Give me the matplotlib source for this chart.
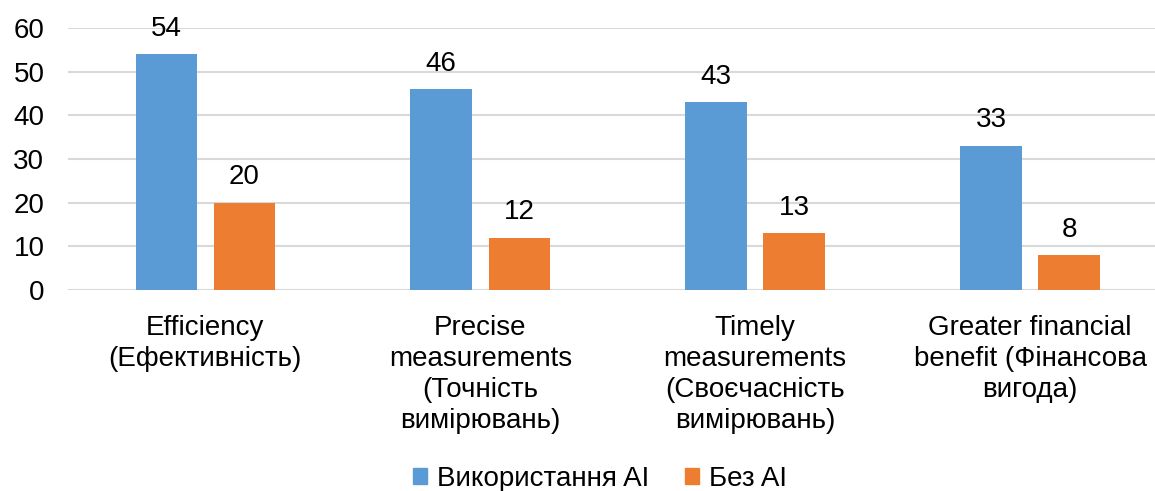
import numpy as np
import matplotlib
matplotlib.use("Agg")
import matplotlib.pyplot as plt
from matplotlib.patches import Patch

plt.rcParams['font.family'] = ['Liberation Sans', 'DejaVu Sans']

categories = [
    "Efficiency\n(Ефективність)",
    "Precise\nmeasurements\n(Точність\nвимірювань)",
    "Timely\nmeasurements\n(Своєчасність\nвимірювань)",
    "Greater financial\nbenefit (Фінансова\nвигода)",
]
with_ai = [54, 46, 43, 33]
without_ai = [20, 12, 13, 8]
series_names = ["Використання AI", "Без AI"]
colors = ["#5B9BD5", "#ED7D31"]

FS = 20
fig = plt.figure(figsize=(11.55, 4.91), dpi=100)
W, H = 1155, 491
ax = fig.add_axes([68 / W, 1 - 290 / H, (W - 68) / W, (290 - 28) / H])

x = np.arange(len(categories))
w = 0.224
off = 0.142
b1 = ax.bar(x - off, with_ai, w, color=colors[0], zorder=2)
b2 = ax.bar(x + off, without_ai, w, color=colors[1], zorder=2)

for bars, vals in ((b1, with_ai), (b2, without_ai)):
    for r, v in zip(bars, vals):
        ax.annotate(str(v), (r.get_x() + r.get_width() / 2, v),
                    xytext=(0, 9), textcoords="offset points",
                    ha="center", va="bottom", fontsize=FS, color="#000000")

ax.set_ylim(0, 60)
ax.set_xlim(-0.5, (W - 67.5) / 275 - 0.5)
ax.set_yticks(range(0, 61, 10))
ax.set_xticks(x)
ax.set_xticklabels(categories, fontsize=FS, linespacing=1.25)
ax.tick_params(axis="y", labelsize=FS, length=0, pad=17)
ax.tick_params(axis="x", length=0, pad=18)
ax.yaxis.grid(True, color="#D9D9D9", linewidth=1.5, zorder=0)
ax.set_axisbelow(True)
for s in ax.spines.values():
    s.set_visible(False)

handles = [Patch(color=c) for c in colors]
fig.legend(handles, series_names, loc="center", bbox_to_anchor=(600 / W, 1 - 479 / H),
           ncol=2, frameon=False, fontsize=FS, handlelength=0.5, handleheight=0.5,
           handletextpad=0.35, columnspacing=1.3)

fig.savefig("out.png", dpi=100)
